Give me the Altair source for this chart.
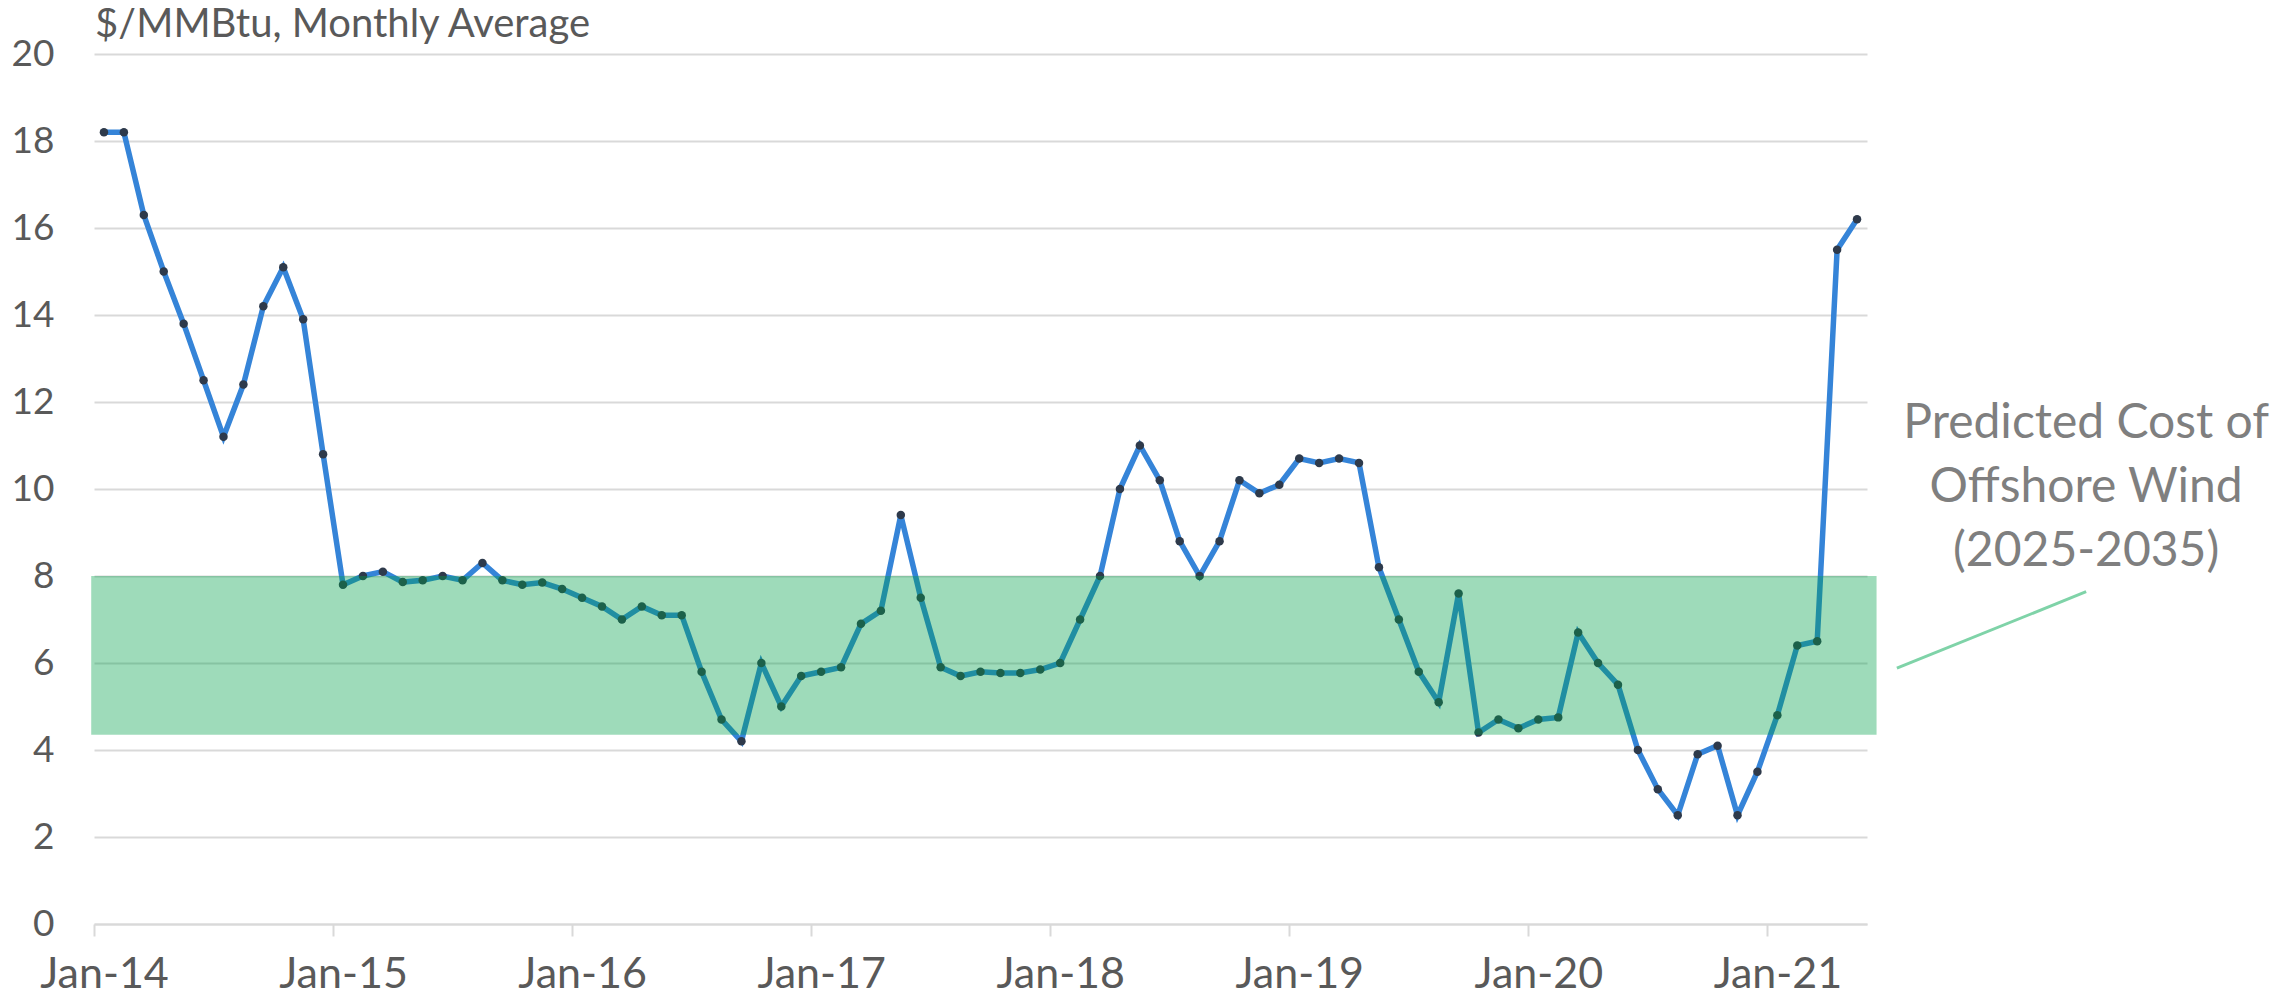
import altair as alt
import pandas as pd

# ---- data (monthly average, $/MMBtu) ----
y2014 = [18.2, 18.2, 16.3, 15.0, 13.8, 12.5, 11.2, 12.4, 14.2, 15.1, 13.9, 10.8]
y2015 = [7.8, 8.0, 8.1, 7.86, 7.9, 8.0, 7.9, 8.3, 7.9, 7.8, 7.85, 7.7]
y2016 = [7.5, 7.3, 7.0, 7.3, 7.1, 7.1, 5.8, 4.7, 4.2, 6.0, 5.0, 5.7]
y2017 = [5.8, 5.9, 6.9, 7.2, 9.4, 7.5, 5.9, 5.7, 5.8, 5.77, 5.77, 5.85]
y2018 = [6.0, 7.0, 8.0, 10.0, 11.0, 10.2, 8.8, 8.0, 8.8, 10.2, 9.9, 10.1]
y2019 = [10.7, 10.6, 10.7, 10.6, 8.2, 7.0, 5.8, 5.1, 7.6, 4.4, 4.7, 4.5]
y2020 = [4.7, 4.75, 6.7, 6.0, 5.5, 4.0, 3.1, 2.5, 3.9, 4.1, 2.5, 3.5]
y2021 = [4.8, 6.4, 6.5, 15.5, 16.2]

tick_labels = ["Jan-14", "Jan-15", "Jan-16", "Jan-17", "Jan-18", "Jan-19", "Jan-20", "Jan-21"]
y_ticks = [0, 2, 4, 6, 8, 10, 12, 14, 16, 18, 20]

band_low = [4.35]
band_high = [8.0]

title_text = "$/MMBtu, Monthly Average"
annotation_text = "Predicted Cost of\nOffshore Wind\n(2025-2035)"

values = y2014 + y2015 + y2016 + y2017 + y2018 + y2019 + y2020 + y2021
n = len(values)
df = pd.DataFrame({"m": list(range(n)), "price": values})

tick_positions = [12 * i - 0.5 for i in range(len(tick_labels))]
label_expr = "[" + ",".join("'%s'" % t for t in tick_labels) + "][round((datum.value + 0.5) / 12)]"

band_df = pd.DataFrame({"x1": [-0.64], "x2": [n - 0.02], "lo": band_low, "hi": band_high})
conn_df = pd.DataFrame({"x1": [n + 1.0], "x2": [n + 10.5], "y1": [5.88], "y2": [7.64]})
ann_df = pd.DataFrame({"x": [n + 10.5], "y": [11.18], "t": [annotation_text]})
title_df = pd.DataFrame({"x": [-0.45], "y": [20.38], "t": [title_text]})

FONT = "Lato"
GRAY = "#595959"

xscale = alt.Scale(domain=[-0.5, n - 0.5], nice=False, zero=False)
yscale = alt.Scale(domain=[0, 20], nice=False, zero=True)

xaxis = alt.Axis(
    values=tick_positions, labelExpr=label_expr, labelOffset=10, labelFlush=False,
    labelAlign="center", labelBaseline="alphabetic", tickSize=12,
    tickColor="#D9D9D9", tickWidth=2, domainColor="#D9D9D9", domainWidth=2,
    grid=False, labelFont=FONT, labelFontSize=43, labelColor=GRAY,
    labelPadding=51, title=None,
)
yaxis = alt.Axis(
    values=y_ticks, grid=True, gridColor="#D9D9D9", gridWidth=2, domain=False,
    ticks=False, labelPadding=40, labelFont=FONT, labelFontSize=37,
    labelColor=GRAY, title=None,
)

base = alt.Chart(df)

line = base.mark_line(color="#3584D8", strokeWidth=5.5).encode(
    x=alt.X("m:Q", scale=xscale, axis=xaxis),
    y=alt.Y("price:Q", scale=yscale, axis=yaxis),
)
points = base.mark_circle(color="#2E3A4B", size=72, opacity=1).encode(
    x=alt.X("m:Q", scale=xscale),
    y=alt.Y("price:Q", scale=yscale),
)
band = alt.Chart(band_df).mark_rect(color="#00A049", opacity=0.38).encode(
    x=alt.X("x1:Q", scale=xscale), x2="x2:Q",
    y=alt.Y("lo:Q", scale=yscale), y2="hi:Q",
)
connector = alt.Chart(conn_df).mark_rule(color="#7FD3A8", strokeWidth=3).encode(
    x=alt.X("x1:Q", scale=xscale), x2="x2:Q",
    y=alt.Y("y1:Q", scale=yscale), y2="y2:Q",
)
annotation = alt.Chart(ann_df).mark_text(
    font=FONT, fontSize=48, color="#7F7F7F", align="center",
    baseline="alphabetic", lineBreak="\n", lineHeight=64,
).encode(
    x=alt.X("x:Q", scale=xscale),
    y=alt.Y("y:Q", scale=yscale),
    text="t:N",
)
title = alt.Chart(title_df).mark_text(
    font=FONT, fontSize=40, color=GRAY, align="left", baseline="alphabetic",
).encode(
    x=alt.X("x:Q", scale=xscale),
    y=alt.Y("y:Q", scale=yscale),
    text="t:N",
)

chart = alt.layer(line, points, band, connector, annotation, title).properties(
    width=1773,
    height=870,
    autosize=alt.AutoSizeParams(type="none"),
    padding={"left": 86, "top": 46, "right": 410, "bottom": 67},
    background="white",
).configure_view(stroke=None)

chart.save("out.html", embed_options={"renderer": "svg", "actions": False})
